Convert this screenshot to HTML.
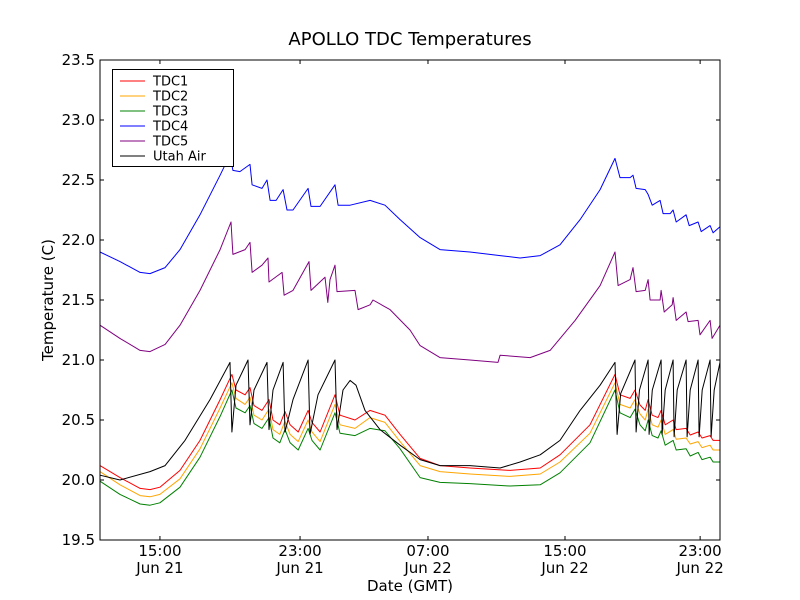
<!DOCTYPE html>
<html><head><meta charset="utf-8"><style>
body{margin:0;background:#fff;}
svg{display:block;font-family:"DejaVu Sans","Liberation Sans",sans-serif;}
</style></head><body>
<svg id="chart" width="800" height="600" viewBox="0 0 800 600">
<rect x="0" y="0" width="800" height="600" fill="#fff"/>
<text x="410" y="45" font-size="18" text-anchor="middle">APOLLO TDC Temperatures</text>
<g id="series"></g>
<rect x="100" y="60" width="620" height="480" fill="none" stroke="#000" stroke-width="1"/>
<g id="axes"></g>
<text x="410" y="591" font-size="15" text-anchor="middle">Date (GMT)</text>
<text x="53" y="300" font-size="15" text-anchor="middle" transform="rotate(-90 53 300)">Temperature (C)</text>
<g id="legend">
<rect x="112.5" y="69.5" width="121" height="97" fill="#fff" stroke="#000" stroke-width="1"/>
</g>
</svg>
<script>
const hoursLow = [11.5,12.67,13.84,14.42,15.0,16.17,17.34,18.51,19.2,19.44,19.97,20.26,20.49,20.96,21.37,21.6,22.0,22.3,22.6,23.07,23.65,23.88,24.35,25.22,25.51,26.39,27.26,28.14,29.02,30.19,31.35,33.1,35.44,37.2,38.36,40.11,41.57,41.86,42.45,42.74,43.03,43.33,43.5,43.74,44.08,44.26,44.5,44.96,45.14,45.72,45.96,46.42,46.65,47.12,47.3,47.7];
const tdc1 = [20.12,20.02,19.93,19.92,19.94,20.08,20.33,20.67,20.88,20.75,20.71,20.77,20.62,20.58,20.67,20.5,20.46,20.57,20.46,20.4,20.58,20.48,20.4,20.71,20.54,20.5,20.58,20.54,20.38,20.18,20.12,20.1,20.08,20.1,20.21,20.46,20.88,20.71,20.68,20.75,20.625,20.58,20.67,20.54,20.52,20.58,20.46,20.5,20.42,20.43,20.375,20.4,20.35,20.37,20.33,20.33];
const tdc2 = [20.07,19.96,19.87,19.86,19.88,20.01,20.26,20.6,20.81,20.68,20.63,20.69,20.54,20.5,20.59,20.42,20.38,20.49,20.38,20.32,20.5,20.4,20.32,20.63,20.46,20.43,20.52,20.48,20.32,20.12,20.07,20.05,20.03,20.05,20.15,20.39,20.81,20.63,20.6,20.67,20.55,20.5,20.59,20.46,20.44,20.5,20.38,20.42,20.34,20.35,20.3,20.32,20.27,20.29,20.25,20.25];
const tdc3 = [19.99,19.88,19.8,19.79,19.81,19.94,20.19,20.53,20.75,20.6,20.56,20.62,20.47,20.43,20.52,20.35,20.31,20.42,20.31,20.25,20.43,20.33,20.25,20.56,20.39,20.37,20.43,20.41,20.26,20.02,19.98,19.97,19.95,19.96,20.06,20.31,20.75,20.56,20.52,20.59,20.46,20.41,20.5,20.37,20.35,20.41,20.29,20.33,20.25,20.26,20.2,20.23,20.17,20.19,20.15,20.15];
const hoursTdc4 = [11.5,12.67,13.84,14.42,15.3,16.17,17.34,18.51,19.09,19.26,19.67,20.26,20.38,20.96,21.25,21.43,21.78,22.19,22.42,22.77,23.65,23.82,24.35,25.22,25.4,26.1,27.27,28.14,29.02,30.19,31.35,33.1,34.86,36.03,37.2,38.36,39.53,40.7,41.57,41.86,42.45,42.62,42.8,43.33,43.5,43.74,44.2,44.38,44.79,44.96,45.14,45.72,45.9,46.42,46.6,47.12,47.3,47.7];
const tdc4 = [21.9,21.82,21.73,21.72,21.77,21.92,22.21,22.54,22.71,22.58,22.57,22.63,22.46,22.43,22.5,22.33,22.33,22.42,22.25,22.25,22.43,22.28,22.28,22.46,22.29,22.29,22.33,22.29,22.17,22.02,21.92,21.9,21.87,21.85,21.87,21.96,22.17,22.42,22.68,22.52,22.52,22.54,22.43,22.42,22.38,22.29,22.33,22.22,22.22,22.25,22.15,22.21,22.12,22.15,22.07,22.12,22.06,22.11];
const hoursTdc5 = [11.5,12.67,13.84,14.42,15.3,16.17,17.34,18.51,19.15,19.26,19.97,20.26,20.38,20.96,21.31,21.37,22.13,22.25,22.77,23.7,23.82,24.64,24.8,24.93,25.22,25.34,26.39,26.57,27.27,27.44,28.43,29.6,30.19,31.35,33.1,34.74,34.86,36.61,37.78,39.24,40.7,41.57,41.75,42.45,42.62,42.8,43.33,43.5,43.62,44.2,44.26,44.44,44.91,44.96,45.14,45.72,45.84,46.42,46.53,47.12,47.24,47.7];
const tdc5 = [21.29,21.18,21.08,21.07,21.13,21.29,21.58,21.92,22.15,21.88,21.92,21.98,21.73,21.79,21.85,21.65,21.73,21.54,21.58,21.82,21.58,21.69,21.48,21.67,21.79,21.57,21.58,21.42,21.46,21.5,21.42,21.25,21.12,21.02,21.0,20.98,21.04,21.02,21.08,21.33,21.62,21.9,21.62,21.67,21.77,21.57,21.58,21.67,21.5,21.5,21.58,21.4,21.46,21.52,21.33,21.4,21.32,21.33,21.21,21.33,21.18,21.29];
const hoursAir = [11.5,12.67,14.42,15.3,16.46,17.92,19.09,19.2,19.44,20.14,20.26,20.49,21.25,21.37,21.6,22.19,22.3,22.77,23.65,23.76,24.23,25.22,25.34,25.69,26.1,26.45,26.97,27.85,29.02,30.19,31.35,33.1,34.86,36.03,37.2,38.36,39.53,40.7,41.57,41.69,41.9,42.74,42.8,43.0,43.5,43.56,43.75,44.26,44.32,44.5,44.96,45.02,45.2,45.72,45.78,45.96,46.42,46.48,46.66,47.12,47.18,47.36,47.7];
const utahAir = [20.04,20.0,20.07,20.12,20.33,20.67,20.98,20.4,20.79,21.0,20.46,20.75,20.98,20.42,20.75,20.98,20.4,20.67,21.0,20.38,20.71,21.0,20.42,20.75,20.83,20.79,20.58,20.42,20.29,20.17,20.12,20.12,20.1,20.15,20.21,20.33,20.58,20.79,20.98,20.38,20.72,21.0,20.4,20.75,21.0,20.38,20.75,21.0,20.38,20.75,21.0,20.36,20.75,21.0,20.36,20.75,21.0,20.36,20.75,21.0,20.36,20.75,20.98];
const yTicks = [19.5,20.0,20.5,21.0,21.5,22.0,22.5,23.0,23.5];
const yTickLabels = ["19.5","20.0","20.5","21.0","21.5","22.0","22.5","23.0","23.5"];
const xTicks = [15.0,23.18,30.65,38.65,46.54];
const xTickTimes = ["15:00","23:00","07:00","15:00","23:00"];
const xTickDates = ["Jun 21","Jun 21","Jun 22","Jun 22","Jun 22"];
const legendNames = ["TDC1","TDC2","TDC3","TDC4","TDC5","Utah Air"];
const legendColors = ["#ff0000","#ffa500","#008000","#0000ff","#800080","#000000"];

const NS="http://www.w3.org/2000/svg";
const X0=100,X1=720,Y0=60,Y1=540,HMIN=11.5,HMAX=47.7,VMIN=19.5,VMAX=23.5;
function xs(h){return X0+(h-HMIN)/(HMAX-HMIN)*(X1-X0);}
function ys(v){return Y1-(v-VMIN)/(VMAX-VMIN)*(Y1-Y0);}
function mk(tag,attrs,parent){const e=document.createElementNS(NS,tag);for(const k in attrs)e.setAttribute(k,attrs[k]);parent.appendChild(e);return e;}

const sg=document.getElementById('series');
const seriesList=[[hoursLow,tdc1,0,'tdc1-line'],[hoursLow,tdc2,1,'tdc2-line'],[hoursLow,tdc3,2,'tdc3-line'],[hoursTdc4,tdc4,3,'tdc4-line'],[hoursTdc5,tdc5,4,'tdc5-line'],[hoursAir,utahAir,5,'utah-air-line']];
seriesList.forEach(s=>{
  const pts=s[0].map((h,i)=>xs(h).toFixed(1)+','+ys(s[1][i]).toFixed(1)).join(' ');
  const pl=mk('polyline',{points:pts,fill:'none',stroke:legendColors[s[2]],'stroke-width':'1','stroke-linejoin':'round'},sg);
  
  
});

const ax=document.getElementById('axes');
yTicks.forEach((v,i)=>{
  const y=ys(v);
  const t1=mk('line',{x1:X0,y1:y,x2:X0+4,y2:y,stroke:'#000'},ax);
  
  
  const t2=mk('line',{x1:X1,y1:y,x2:X1-4,y2:y,stroke:'#000'},ax);
  
  
  const tx=mk('text',{x:X0-5,y:y+5,'font-size':'15','text-anchor':'end'},ax);
  tx.textContent=yTickLabels[i];
  
  
});
xTicks.forEach((h,i)=>{
  const x=xs(h);
  const t1=mk('line',{x1:x,y1:Y1,x2:x,y2:Y1-4,stroke:'#000'},ax);
  
  
  const t2=mk('line',{x1:x,y1:Y0,x2:x,y2:Y0+4,stroke:'#000'},ax);
  
  
  const a=mk('text',{x:x,y:556,'font-size':'15','text-anchor':'middle'},ax);
  a.textContent=xTickTimes[i];
  
  
  const b=mk('text',{x:x,y:573,'font-size':'15','text-anchor':'middle'},ax);
  b.textContent=xTickDates[i];
  
  
});

const lg=document.getElementById('legend');
legendNames.forEach((n,i)=>{
  const y=81+i*15;
  const l=mk('line',{x1:120,y1:y,x2:145,y2:y,stroke:legendColors[i],'stroke-width':'1'},lg);
  
  
  const t=mk('text',{x:153,y:y+4.5,'font-size':'13'},lg);
  t.textContent=n;
  
  
});
</script>
</body></html>
